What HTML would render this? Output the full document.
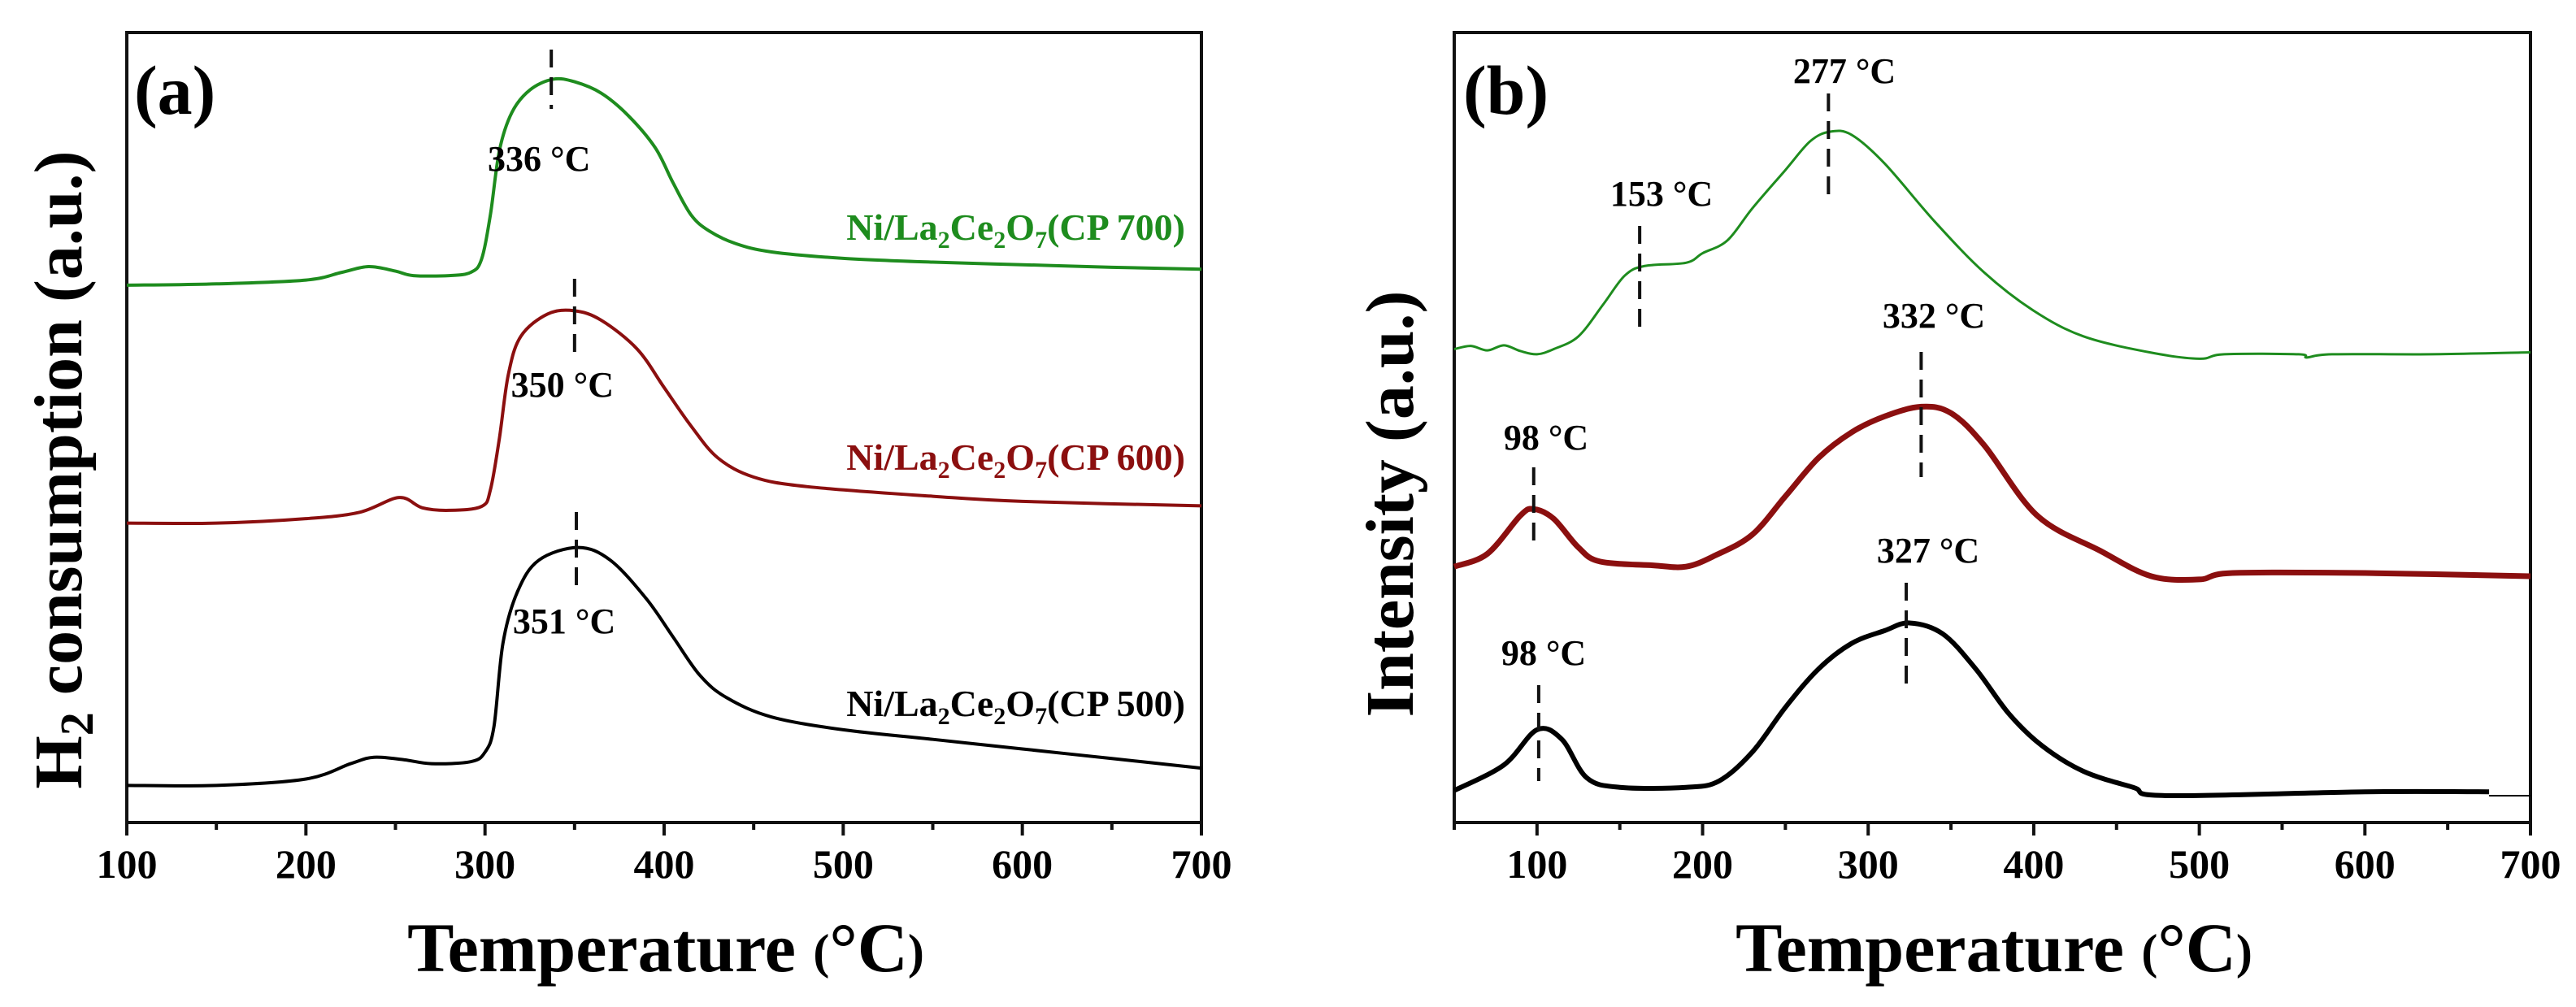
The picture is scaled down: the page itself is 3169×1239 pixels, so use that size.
<!DOCTYPE html>
<html><head><meta charset="utf-8"><style>
html,body{margin:0;padding:0;background:#fff;}
svg{display:block;}
text{font-family:"Liberation Serif","Times New Roman",serif;font-weight:bold;}
</style></head><body>
<svg id="fig" width="3169" height="1239" viewBox="0 0 3169 1239" xmlns="http://www.w3.org/2000/svg">
<g id="pa"></g>
<g id="pb"></g>
</svg>
<script>
// ---- Panel (a) data: H2-TPR ----
const aTempGreen = [100,150,200,220,235,250,260,280,292,298,303,308,315,325,338,350,365,380,395,405,415,425,440,460,500,550,600,650,700];
const aValGreen  = [840,842,848,860,869,862,855,855,860,880,950,1050,1110,1145,1162,1158,1140,1105,1055,1000,950,925,905,892,882,876,872,868,865];
const aTempRed = [100,150,200,230,252,265,280,298,303,308,313,320,335,350,365,385,400,415,430,450,480,550,600,700];
const aValRed  = [468,468,475,485,508,492,488,494,520,600,700,760,795,800,785,740,680,620,570,540,525,510,502,495];
const aTempBlack = [100,150,200,225,238,255,270,292,300,305,310,318,330,352,370,390,405,420,435,460,500,550,600,650,700];
const aValBlack  = [58,58,68,92,102,98,92,95,110,150,280,360,410,430,410,350,290,230,195,165,145,130,115,100,85];
const aTicks = [100,200,300,400,500,600,700];
const aMinor = [150,250,350,450,550,650];
const aLabels = ["Ni/La2Ce2O7(CP 700)","Ni/La2Ce2O7(CP 600)","Ni/La2Ce2O7(CP 500)"];
const aPeakT = [337,350,351];
const aPeakText = ["336 °C","350 °C","351 °C"];
// ---- Panel (b) data ----
const bTempGreen = [50,60,70,80,90,100,110,125,140,153,165,190,200,215,230,250,265,277,290,310,340,370,400,430,470,500,515,560,565,580,640,700];
const bValGreen  = [740,745,738,746,737,732,740,760,810,855,870,875,890,910,960,1020,1065,1080,1075,1030,940,860,800,760,735,725,732,732,727,732,732,735];
const bTempRed = [50,70,90,98,110,125,138,170,190,208,230,250,270,290,310,332,350,370,402,440,471,500,520,600,700];
const bValRed  = [400,420,480,490,475,430,408,402,400,418,450,510,570,610,635,650,640,590,480,425,385,380,390,390,385];
const bTempBlack = [50,80,100,115,130,150,190,210,230,250,270,290,310,325,345,365,385,405,430,460,480,600,675];
const bValBlack  = [50,90,145,130,70,55,55,65,110,180,240,280,300,312,295,240,170,120,80,55,42,48,48];
const bTicks = [100,200,300,400,500,600,700];
const bMinor = [50,150,250,350,450,550,650];
const bPeakT = [276,162,332,98,323,101];
const bPeakText = ["277 °C","153 °C","332 °C","98 °C","327 °C","98 °C"];

const NS="http://www.w3.org/2000/svg";
function mk(parent,tag,attrs){const e=document.createElementNS(NS,tag);for(const k in attrs)e.setAttribute(k,attrs[k]);parent.appendChild(e);return e;}
const Y0=1012, YT=40;
function yv(v){return Y0 - v*(Y0-YT)/1235;}

function axes(g,x0,x1,tmin,tmax,ticks,minor,ytitle,ytx,ytcx){
  const sx=t=>x0+(t-tmin)*(x1-x0)/(tmax-tmin);
  const fr=mk(g,'rect',{x:x0,y:YT,width:x1-x0,height:Y0-YT,fill:'none',stroke:'#111','stroke-width':4});
  
  
  ticks.forEach(t=>{
    const l=mk(g,'line',{x1:sx(t),x2:sx(t),y1:Y0,y2:Y0+16,stroke:'#111','stroke-width':4});
    
    
    const tx=mk(g,'text',{x:sx(t),y:1080,'text-anchor':'middle','font-size':50,fill:'#000'});
    tx.textContent=t;
    
    
  });
  minor.forEach(t=>{
    const l=mk(g,'line',{x1:sx(t),x2:sx(t),y1:Y0,y2:Y0+9,stroke:'#111','stroke-width':4});
    
    
  });
  const xt=mk(g,'text',{x:(x0+x1)/2+2,y:1195,'text-anchor':'middle','font-size':86,fill:'#000'});
  xt.innerHTML='Temperature <tspan font-size="60" dy="-4">(</tspan><tspan dy="4">°C</tspan><tspan font-size="60" dy="-4">)</tspan>';
  
  
  const yt=mk(g,'text',{x:0,y:0,'text-anchor':'middle','font-size':84,fill:'#000',transform:`translate(${ytx},${ytcx}) rotate(-90)`});
  yt.innerHTML=ytitle;
  
  
  return sx;
}
function line(g,sx,ts,vs,color,w,name){
  const P=ts.map((t,i)=>[sx(t),yv(vs[i])]);
  let d=`M${P[0][0]},${P[0][1]}`;
  for(let i=0;i<P.length-1;i++){
    const p0=P[Math.max(0,i-1)],p1=P[i],p2=P[i+1],p3=P[Math.min(P.length-1,i+2)];
    const c1=[p1[0]+(p2[0]-p0[0])/6,p1[1]+(p2[1]-p0[1])/6];
    const c2=[p2[0]-(p3[0]-p1[0])/6,p2[1]-(p3[1]-p1[1])/6];
    d+=`C${c1[0]},${c1[1]} ${c2[0]},${c2[1]} ${p2[0]},${p2[1]}`;
  }
  const p=mk(g,'path',{d:d,fill:'none',stroke:color,'stroke-width':w,'stroke-linejoin':'round'});
  
  
}
function dash(g,x,y1,y2){
  const l=mk(g,'line',{x1:x,x2:x,y1:y1,y2:y2,stroke:'#111','stroke-width':4,'stroke-dasharray':'22,12'});
  
  
}
function label(g,x,y,txt,size,anchor,color,name){
  const t=mk(g,'text',{x:x,y:y,'text-anchor':anchor,'font-size':size,fill:color});
  t.textContent=txt;
  
  
  return t;
}
function legendLabel(g,x,y,txt,color,name){
  const t=mk(g,'text',{x:x,y:y,'text-anchor':'end','font-size':46,fill:color});
  const m=txt.match(/^Ni\/La2Ce2O7(.*)$/);
  t.innerHTML=`Ni/La<tspan font-size="30" dy="10">2</tspan><tspan dy="-10">Ce</tspan><tspan font-size="30" dy="10">2</tspan><tspan dy="-10">O</tspan><tspan font-size="30" dy="10">7</tspan><tspan dy="-10">${m?m[1]:''}</tspan>`;
  
  
}

// Panel A
const ga=document.getElementById('pa');
const sxa=axes(ga,156,1478,100,700,aTicks,aMinor,'H<tspan font-size="58" dy="14">2</tspan><tspan dy="-14"> consumption (a.u.)</tspan>',100,578);
line(ga,sxa,aTempGreen,aValGreen,'#1e8c1e',4,'series-cp700');
line(ga,sxa,aTempRed,aValRed,'#8b0f0f',4,'series-cp600');
line(ga,sxa,aTempBlack,aValBlack,'#000',4,'series-cp500');
label(ga,165,140,'(a)',86,'start','#000','panel-label-a');
const aDash=[[61,134],[343,437],[630,725]];
const aLblY=[210,488,779];
aPeakT.forEach((t,i)=>{dash(ga,sxa(t),aDash[i][0],aDash[i][1]);label(ga,sxa(t)-15,aLblY[i],aPeakText[i],44,'middle','#000','peak-label');});
legendLabel(ga,1458,295,aLabels[0],'#1e8c1e','legend-cp700');
legendLabel(ga,1458,578,aLabels[1],'#8b0f0f','legend-cp600');
legendLabel(ga,1458,881,aLabels[2],'#000','legend-cp500');

// Panel B
const gb=document.getElementById('pb');
const sxb=axes(gb,1789,3113,50,700,bTicks,bMinor,'Intensity (a.u.)',1738,620);
line(gb,sxb,bTempGreen,bValGreen,'#1e8c1e',3,'series-b-cp700');
line(gb,sxb,bTempRed,bValRed,'#8b0f0f',7,'series-b-cp600');
line(gb,sxb,bTempBlack,bValBlack,'#000',6,'series-b-cp500');
const bl=mk(gb,'line',{x1:sxb(675),x2:3113,y1:yv(42),y2:yv(42),stroke:'#000','stroke-width':2});


label(gb,1800,140,'(b)',86,'start','#000','panel-label-b');
const bDash=[[115,241],[278,406],[433,587],[575,666],[717,843],[843,961]];
const bLbl=[[2269,102],[2044,253],[2379,403],[1902,553],[2372,692],[1899,818]];
bPeakT.forEach((t,i)=>{dash(gb,sxb(t),bDash[i][0],bDash[i][1]);label(gb,bLbl[i][0],bLbl[i][1],bPeakText[i],44,'middle','#000','peak-label');});
</script>
</body></html>
